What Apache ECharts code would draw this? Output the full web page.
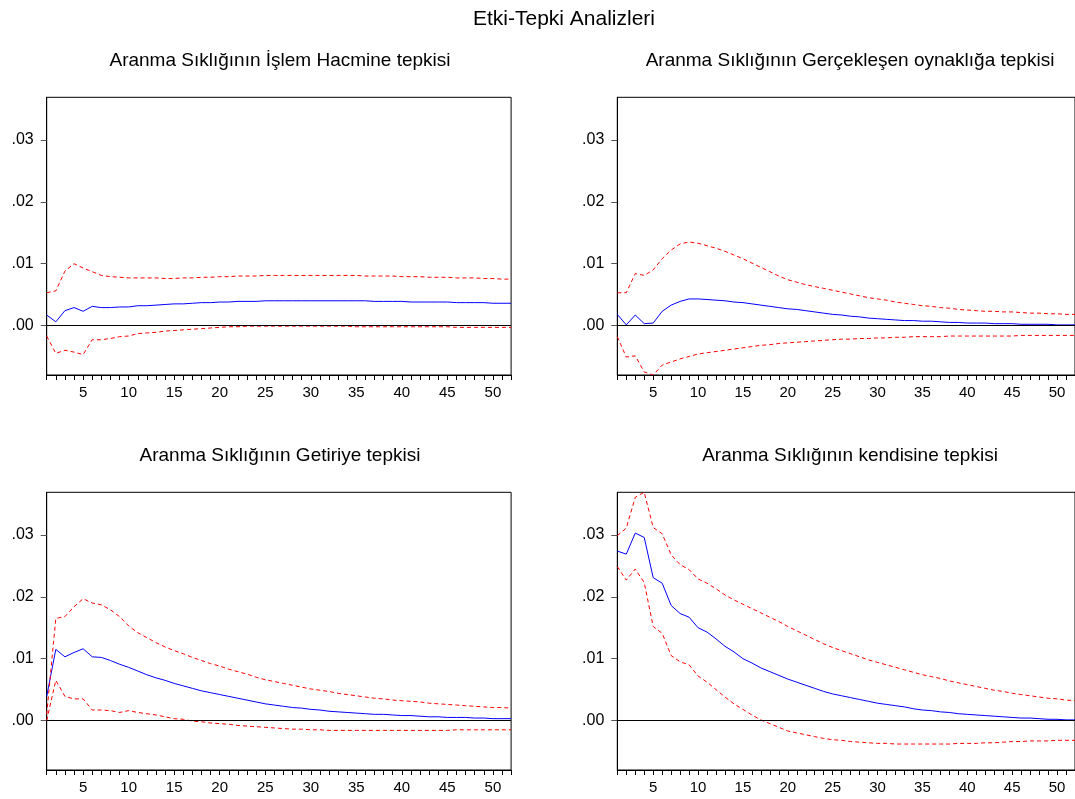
<!DOCTYPE html>
<html>
<head>
<meta charset="utf-8">
<script src="https://cdn.jsdelivr.net/npm/echarts@6/dist/echarts.min.js"></script>
<style>
html,body{margin:0;padding:0;background:#fff;}
#c{width:1075px;height:799px;}
</style>
</head>
<body>
<div id="c"></div>
<script>
// ---- data ----
var periods = [];
for (var i = 1; i <= 52; i++) periods.push(String(i));

var mainTitle = 'Etki-Tepki Analizleri';
var panelTitles = [
  'Aranma Sıklığının İşlem Hacmine tepkisi',
  'Aranma Sıklığının Gerçekleşen oynaklığa tepkisi',
  'Aranma Sıklığının Getiriye tepkisi',
  'Aranma Sıklığının kendisine tepkisi'
];
var yTickValues = [0, 0.01, 0.02, 0.03];

// Panel 1: İşlem Hacmi
var volResp = [.0017,.0006,.0024,.0029,.0023,.0031,.0029,.0029,.0030,.0030,
 .0032,.0032,.0033,.0034,.0035,.0035,.0036,.0037,.0037,.0038,
 .0038,.0039,.0039,.0039,.0040,.0040,.0040,.0040,.0040,.0040,
 .0040,.0040,.0040,.0040,.0040,.0040,.0039,.0039,.0039,.0039,
 .0038,.0038,.0038,.0038,.0038,.0037,.0037,.0037,.0037,.0036,
 .0036,.0036];
var volUpper = [.0053,.0056,.0088,.0100,.0093,.0087,.0081,.0079,.0078,.0077,
 .0077,.0077,.0077,.0076,.0076,.0077,.0077,.0078,.0078,.0079,
 .0079,.0080,.0080,.0080,.0081,.0081,.0081,.0081,.0081,.0081,
 .0081,.0081,.0081,.0081,.0081,.0080,.0080,.0080,.0080,.0079,
 .0079,.0079,.0078,.0078,.0078,.0077,.0077,.0077,.0076,.0076,
 .0075,.0075];
var volLower = [-.0017,-.0045,-.0040,-.0043,-.0047,-.0023,-.0023,-.0021,-.0018,-.0017,
 -.0013,-.0012,-.0011,-.0009,-.0008,-.0007,-.0006,-.0005,-.0004,-.0003,
 -.0002,-.0002,-.0001,-.0001,-.0001,-.0001,-.0001,-.0001,-.0001,-.0001,
 -.0001,-.0001,-.0001,-.0001,-.0002,-.0002,-.0002,-.0002,-.0002,-.0002,
 -.0002,-.0002,-.0002,-.0002,-.0002,-.0003,-.0003,-.0003,-.0003,-.0003,
 -.0003,-.0003];

// Panel 2: Gerçekleşen oynaklık
var rvResp = [.0018,.0001,.0017,.0003,.0004,.0023,.0033,.0039,.0043,.0043,
 .0042,.0041,.0040,.0038,.0037,.0035,.0033,.0031,.0029,.0027,
 .0026,.0024,.0022,.0020,.0018,.0017,.0015,.0014,.0012,.0011,
 .0010,.0009,.0008,.0008,.0007,.0007,.0006,.0005,.0005,.0004,
 .0004,.0004,.0003,.0003,.0003,.0002,.0002,.0002,.0002,.0001,
 .0001,.0001];
var rvUpper = [.0053,.0053,.0084,.0081,.0090,.0108,.0122,.0132,.0135,.0133,
 .0129,.0125,.0120,.0114,.0108,.0101,.0094,.0087,.0080,.0074,
 .0070,.0066,.0063,.0060,.0057,.0054,.0051,.0048,.0045,.0043,
 .0041,.0038,.0036,.0034,.0032,.0031,.0029,.0028,.0026,.0025,
 .0024,.0023,.0023,.0022,.0022,.0021,.0020,.0020,.0019,.0019,
 .0018,.0018];
var rvLower = [-.0018,-.0051,-.0049,-.0075,-.0080,-.0064,-.0059,-.0054,-.0050,-.0046,
 -.0044,-.0042,-.0040,-.0038,-.0036,-.0034,-.0032,-.0031,-.0029,-.0028,
 -.0027,-.0026,-.0025,-.0024,-.0023,-.0022,-.0022,-.0021,-.0021,-.0020,
 -.0020,-.0019,-.0019,-.0018,-.0018,-.0018,-.0018,-.0017,-.0017,-.0017,
 -.0017,-.0017,-.0017,-.0017,-.0017,-.0016,-.0016,-.0016,-.0016,-.0016,
 -.0016,-.0016];

// Panel 3: Getiri
var retResp = [.0039,.0115,.0103,.0110,.0116,.0103,.0102,.0097,.0091,.0086,
 .0080,.0074,.0069,.0065,.0060,.0056,.0052,.0048,.0045,.0042,
 .0039,.0036,.0033,.0030,.0027,.0025,.0023,.0021,.0020,.0018,
 .0017,.0015,.0014,.0013,.0012,.0011,.0010,.0010,.0009,.0008,
 .0008,.0007,.0006,.0006,.0005,.0005,.0005,.0004,.0004,.0003,
 .0003,.0003];
var retUpper = [.0010,.0165,.0168,.0184,.0197,.0190,.0187,.0179,.0168,.0153,
 .0142,.0134,.0126,.0119,.0113,.0108,.0102,.0097,.0092,.0088,
 .0083,.0079,.0075,.0070,.0066,.0063,.0060,.0057,.0054,.0051,
 .0049,.0047,.0044,.0042,.0040,.0038,.0036,.0035,.0033,.0032,
 .0031,.0030,.0028,.0027,.0026,.0025,.0024,.0023,.0022,.0021,
 .0021,.0020];
var retLower = [.0000,.0065,.0039,.0035,.0035,.0017,.0017,.0016,.0013,.0016,
 .0013,.0011,.0009,.0006,.0003,.0002,-.0001,-.0002,-.0004,-.0005,
 -.0006,-.0008,-.0009,-.0010,-.0011,-.0012,-.0013,-.0014,-.0014,-.0015,
 -.0015,-.0016,-.0016,-.0016,-.0016,-.0016,-.0016,-.0016,-.0016,-.0016,
 -.0016,-.0016,-.0016,-.0016,-.0016,-.0015,-.0015,-.0015,-.0015,-.0015,
 -.0015,-.0015];

// Panel 4: kendisi
var ownResp = [.0274,.0269,.0303,.0296,.0231,.0222,.0186,.0173,.0167,.0150,
 .0143,.0132,.0120,.0111,.0100,.0093,.0085,.0079,.0073,.0067,
 .0062,.0057,.0052,.0047,.0043,.0040,.0037,.0034,.0031,.0028,
 .0026,.0024,.0022,.0019,.0017,.0016,.0014,.0013,.0011,.0010,
 .0009,.0008,.0007,.0006,.0005,.0004,.0004,.0003,.0002,.0002,
 .0001,.0001];
var ownUpper = [.0299,.0311,.0361,.0369,.0312,.0302,.0268,.0252,.0244,.0229,
 .0222,.0213,.0203,.0195,.0188,.0181,.0174,.0167,.0160,.0152,
 .0145,.0138,.0131,.0124,.0118,.0113,.0108,.0103,.0098,.0094,
 .0090,.0086,.0082,.0078,.0074,.0071,.0068,.0064,.0061,.0058,
 .0055,.0052,.0049,.0047,.0044,.0042,.0040,.0038,.0036,.0035,
 .0033,.0032];
var ownLower = [.0249,.0227,.0245,.0223,.0152,.0141,.0105,.0095,.0090,.0072,
 .0062,.0050,.0038,.0027,.0018,.0009,.0001,-.0005,-.0011,-.0017,
 -.0020,-.0023,-.0026,-.0029,-.0031,-.0032,-.0034,-.0035,-.0036,-.0037,
 -.0037,-.0038,-.0038,-.0038,-.0038,-.0038,-.0038,-.0038,-.0037,-.0037,
 -.0037,-.0036,-.0036,-.0035,-.0034,-.0034,-.0033,-.0033,-.0033,-.0032,
 -.0032,-.0032];

var panels = [
  {resp: volResp, up: volUpper, lo: volLower},
  {resp: rvResp, up: rvUpper, lo: rvLower},
  {resp: retResp, up: retUpper, lo: retLower},
  {resp: ownResp, up: ownUpper, lo: ownLower}
];

// ---- layout ----
var FONT = 'Liberation Sans, Arial, sans-serif';
var gridPos = [
  {left: 46.7, top: 97.3},
  {left: 617.3, top: 97.3},
  {left: 46.7, top: 492.3},
  {left: 617.3, top: 492.3}
];
var titlePos = [
  {x: 278, y: 58}, {x: 848, y: 58}, {x: 278, y: 453}, {x: 848, y: 453}
];

var grids = [], xAxes = [], yAxes = [], series = [], titles = [];
titles.push({text: mainTitle, left: 559, top: 4, textAlign: 'center',
  textStyle: {fontFamily: FONT, fontSize: 21, fontWeight: 'normal', color: '#000'}});

panels.forEach(function (p, k) {
  grids.push({left: gridPos[k].left, top: gridPos[k].top, width: 464.4, height: 277.7,
    show: true, borderColor: '#000', borderWidth: 1, backgroundColor: 'transparent'});
  titles.push({text: panelTitles[k], left: titlePos[k].x - 3, top: titlePos[k].y - 12, textAlign: 'center',
    textStyle: {fontFamily: FONT, fontSize: 19, fontWeight: 'normal', color: '#000'}});
  xAxes.push({
    type: 'category', gridIndex: k, data: periods, boundaryGap: false,
    axisLine: {show: true, onZero: false, lineStyle: {color: '#000', width: 1}},
    axisTick: {show: true, interval: 0, length: 5, lineStyle: {color: '#000'}},
    axisLabel: {interval: function (i, v) { return Number(v) % 5 === 0; },
      fontFamily: FONT, fontSize: 15, color: '#000', margin: 10},
    splitLine: {show: false}
  });
  yAxes.push({
    type: 'value', gridIndex: k, min: -0.008, max: 0.0369,
    axisLine: {show: true, lineStyle: {color: '#000', width: 1}},
    axisTick: {show: true, length: 6, customValues: yTickValues, lineStyle: {color: '#555'}},
    axisLabel: {customValues: yTickValues, fontFamily: FONT, fontSize: 16, color: '#000', margin: 13,
      formatter: function (v) { return v.toFixed(2).replace(/^0/, ''); }},
    splitLine: {show: false}
  });
  series.push({
    type: 'line', xAxisIndex: k, yAxisIndex: k, data: p.resp, symbol: 'none',
    lineStyle: {color: '#0000FF', width: 1}, z: 3, animation: false,
    markLine: {silent: true, symbol: 'none', label: {show: false},
      lineStyle: {color: '#000', width: 1, type: 'solid'}, data: [{yAxis: 0}], animation: false}
  });
  series.push({
    type: 'line', xAxisIndex: k, yAxisIndex: k, data: p.up, symbol: 'none',
    lineStyle: {color: '#FF0000', width: 1, type: [4, 3]}, z: 4, animation: false
  });
  series.push({
    type: 'line', xAxisIndex: k, yAxisIndex: k, data: p.lo, symbol: 'none',
    lineStyle: {color: '#FF0000', width: 1, type: [4, 3]}, z: 4, animation: false
  });
});

var chart = echarts.init(document.getElementById('c'), null, {renderer: 'canvas'});
chart.setOption({
  backgroundColor: '#fff',
  animation: false,
  title: titles,
  grid: grids,
  xAxis: xAxes,
  yAxis: yAxes,
  series: series
});
</script>
</body>
</html>
